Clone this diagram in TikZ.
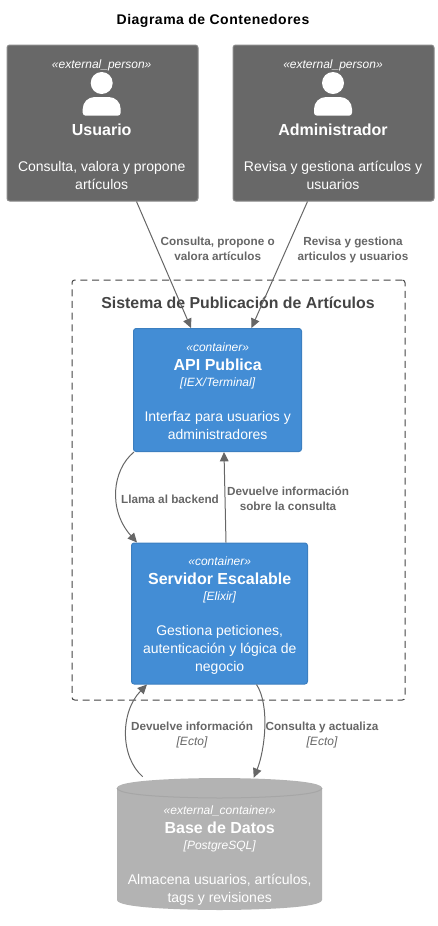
\documentclass[tikz,border=0pt]{standalone}
\usepackage{fontspec}
\setmainfont{Liberation Sans}
\usetikzlibrary{arrows.meta}
\newcommand{\pxu}{0.75pt}
\newcommand{\stereotxt}[1]{\fontsize{9}{13.5}\selectfont\itshape #1}
\newcommand{\nametxt}[1]{\fontsize{12}{13.5}\selectfont\normalfont\bfseries #1}
\newcommand{\techtxt}[1]{\fontsize{9}{13.5}\selectfont\normalfont\itshape #1}
\newcommand{\desctxt}[1]{\fontsize{10.5}{13.5}\selectfont\normalfont #1}
\newcommand{\reltxt}[1]{\fontsize{8.8}{11.25}\selectfont\normalfont\bfseries #1}
\newcommand{\reltech}[1]{\fontsize{9}{11.25}\selectfont\normalfont\itshape #1}
\definecolor{personfill}{HTML}{686868}
\definecolor{personline}{HTML}{8A8A8A}
\definecolor{contfill}{HTML}{438DD5}
\definecolor{contline}{HTML}{3C7FC0}
\definecolor{dbfill}{HTML}{B3B3B3}
\definecolor{dbline}{HTML}{A6A6A6}
\definecolor{relcol}{HTML}{666666}
\definecolor{bndcol}{HTML}{444444}
\tikzset{
  personbox/.style={draw=personline,fill=personfill,line width=0.75pt,rounded corners=2pt,inner sep=0pt},
  contbox/.style={draw=contline,fill=contfill,line width=0.75pt,rounded corners=2pt,inner sep=0pt},
  dbbox/.style={inner sep=0pt},
  boxtext/.style={text=white,align=center,anchor=base,inner sep=0pt,font=\fontsize{10.5}{13.5}\selectfont},
  reltext/.style={text=relcol,align=center,anchor=base,inner sep=0pt,font=\fontsize{9}{11.25}\selectfont},
  rel/.style={draw=relcol,line width=0.75pt,-{Triangle[length=7pt,width=6.5pt]},fill=none},
  icon/.style={fill=white,draw=none},
}
\newcommand{\personicon}[1]{%
  \fill[icon] (#1,83) circle (11);
  \fill[icon] (#1-19,112.7) -- (#1-19,109) arc[start angle=180,end angle=270,radius=12] -- (#1+7,97)
    arc[start angle=270,end angle=360,radius=12] -- (#1+19,112.7)
    arc[start angle=0,end angle=90,radius=3] -- (#1-16,115.7)
    arc[start angle=90,end angle=180,radius=3] -- cycle;
}
\begin{document}
\begin{tikzpicture}[x=0.75pt,y=-0.75pt]
\useasboundingbox (0,0) rectangle (438,926);
% title
\node[anchor=base,inner sep=0pt,text=black] (title) at (213,24)
  {\fontsize{10.5}{13}\selectfont\addfontfeatures{LetterSpace=3.6}\bfseries Diagrama de Contenedores};
% boundary
\node[draw=bndcol,dash pattern=on 5.25pt off 3.5pt,line width=0.75pt,rounded corners=2pt,inner sep=0pt,
  minimum width=333*\pxu,minimum height=420*\pxu] (bnd) at (238.5,490) {};
\node[anchor=base,inner sep=0pt,text=bndcol] (bndtitle) at (238,308)
  {\fontsize{11.9}{14}\selectfont\bfseries Sistema de Publicación de Artículos};
% persons
\node[personbox,minimum width=191*\pxu,minimum height=156*\pxu] (usuario) at (102.5,123) {};
\node[personbox,minimum width=201*\pxu,minimum height=156*\pxu] (admin) at (333.5,123) {};
\personicon{101.7}
\personicon{333}
\node[boxtext] (usuariotxt) at (101.7,189) {\stereotxt{«external\_person»}\\[36.75pt]
  \nametxt{Usuario}\\[13.5pt]
  \desctxt{Consulta, valora y propone}\\
  \desctxt{artículos}};
\node[boxtext] (admintxt) at (333,189) {\stereotxt{«external\_person»}\\[36.75pt]
  \nametxt{Administrador}\\[13.5pt]
  \desctxt{Revisa y gestiona artículos y}\\
  \desctxt{usuarios}};
% containers
\node[contbox,minimum width=168*\pxu,minimum height=123*\pxu] (api) at (217.5,390) {};
\node[contbox,minimum width=176*\pxu,minimum height=141*\pxu] (srv) at (219.5,613.5) {};
\node[boxtext] (apitxt) at (217.7,439) {\stereotxt{«container»}\\[0.75pt]
  \nametxt{API Publica}\\[-1.5pt]
  \techtxt{[IEX/Terminal]}\\[12.75pt]
  \desctxt{Interfaz para usuarios y}\\
  \desctxt{administradores}};
\node[boxtext] (srvtxt) at (219.7,671) {\stereotxt{«container»}\\[0.75pt]
  \nametxt{Servidor Escalable}\\[-1.5pt]
  \techtxt{[Elixir]}\\[12.75pt]
  \desctxt{Gestiona peticiones,}\\
  \desctxt{autenticación y lógica de}\\
  \desctxt{negocio}};
% database
\node[dbbox,minimum width=205*\pxu,minimum height=132*\pxu] (db) at (219.5,844) {};
\fill[dbfill] (117,788) .. controls (117,778) and (219.5,778) .. (219.5,778)
  .. controls (219.5,778) and (322,778) .. (322,788) -- (322,900)
  .. controls (322,910) and (219.5,910) .. (219.5,910)
  .. controls (219.5,910) and (117,910) .. (117,900) -- cycle;
\draw[dbline,line width=0.75pt] (117,788) .. controls (117,798) and (219.5,798) .. (219.5,798)
  .. controls (219.5,798) and (322,798) .. (322,788);
\node[boxtext] (dbtxt) at (219.7,902) {\stereotxt{«external\_container»}\\[0.75pt]
  \nametxt{Base de Datos}\\[-1.5pt]
  \techtxt{[PostgreSQL]}\\[12.75pt]
  \desctxt{Almacena usuarios, artículos,}\\
  \desctxt{tags y revisiones}};
% relations
\draw[rel] ([xshift=130*\pxu]usuario.south west) -- ([xshift=58*\pxu]api.north west);
\draw[rel] ([xshift=75*\pxu]admin.south west) -- ([xshift=118.5*\pxu]api.north west);
\draw[rel] ([xshift=1*\pxu]api.south west) .. controls (112,470) and (108,510) .. ([xshift=6*\pxu]srv.north west);
\draw[rel] ([xshift=95*\pxu]srv.north west) -- ([xshift=91*\pxu]api.south west);
\draw[rel] ([xshift=26*\pxu,yshift=1*\pxu]db.north west) .. controls (120,757) and (120,712) .. ([xshift=16*\pxu]srv.south west);
\draw[rel] ([xshift=125.5*\pxu]srv.south west) .. controls (270,705) and (265,750) .. ([xshift=137*\pxu]db.north west);
% relation labels
\node[reltext] (l1) at (217.7,260) {\reltxt{Consulta, propone o}\\\reltxt{valora artículos}};
\node[reltext] (l2) at (353,260) {\reltxt{Revisa y gestiona}\\\reltxt{articulos y usuarios}};
\node[reltext] (l3) at (170,503) {\reltxt{Llama al backend}};
\node[reltext] (l4) at (288,510) {\reltxt{Devuelve información}\\\reltxt{sobre la consulta}};
\node[reltext] (l5) at (192,745) {\reltxt{Devuelve información}\\\reltech{[Ecto]}};
\node[reltext] (l6) at (322,745) {\reltxt{Consulta y actualiza}\\\reltech{[Ecto]}};
\end{tikzpicture}
\end{document}
